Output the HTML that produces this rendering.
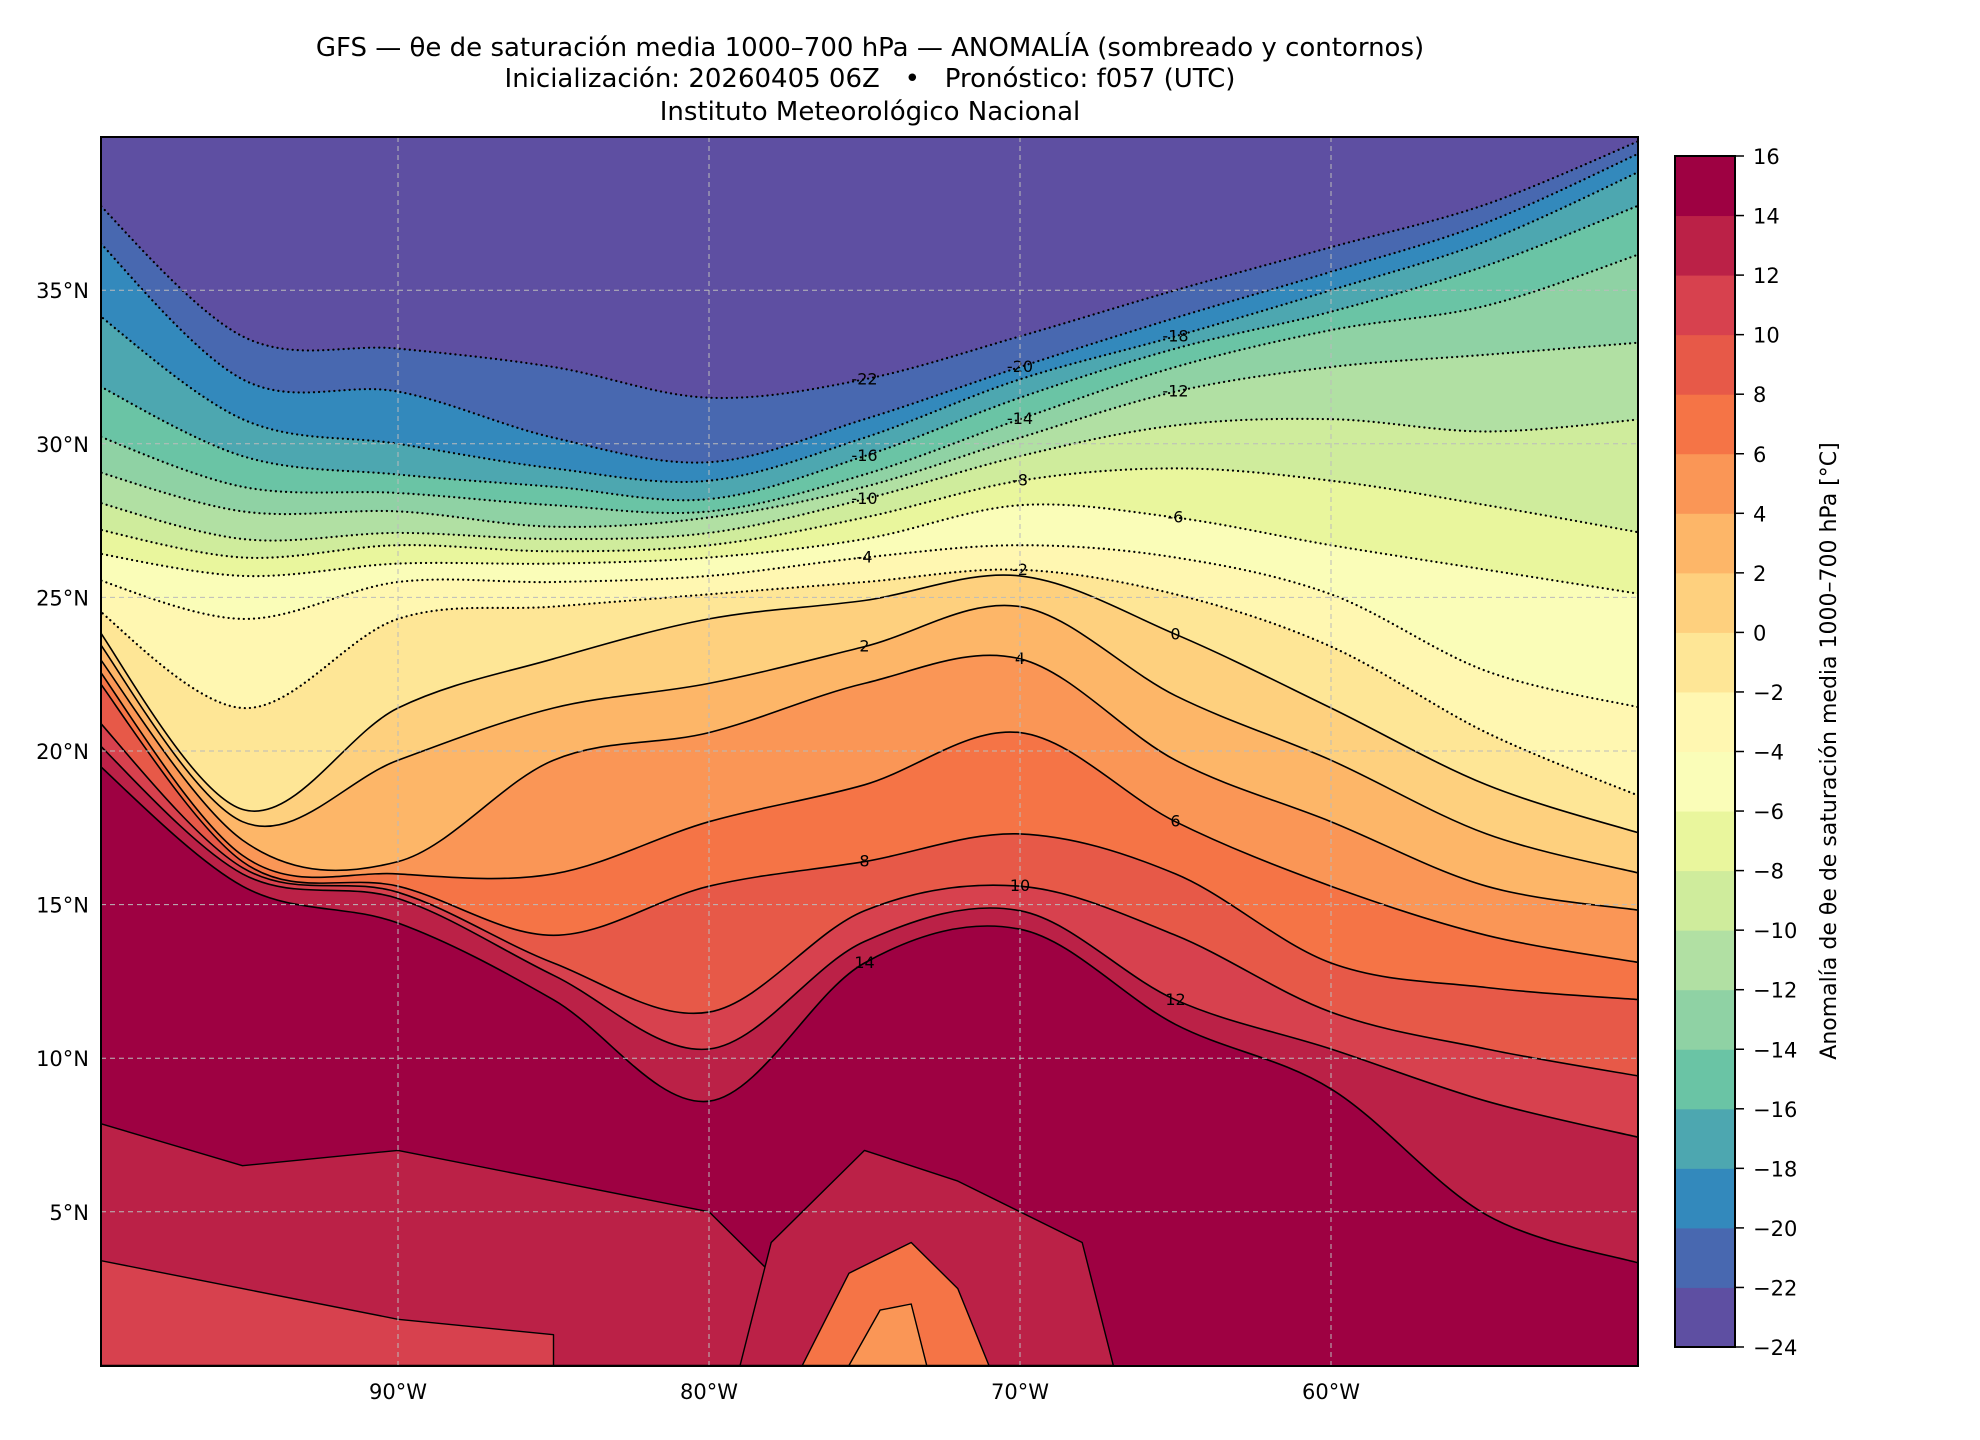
<!DOCTYPE html>
<html><head><meta charset="utf-8"><style>
html,body{margin:0;padding:0;background:#fff;}
svg{display:block;font-family:"DejaVu Sans","Liberation Sans",sans-serif;}
</style></head><body>
<svg id="fig" width="1980" height="1440" viewBox="0 0 1980 1440">
<g font-size="26" text-anchor="middle" fill="#000">
<text x="870" y="56">GFS — θe de saturación media 1000–700 hPa — ANOMALÍA (sombreado y contornos)</text>
<text x="870" y="87" xml:space="preserve">Inicialización: 20260405 06Z   •   Pronóstico: f057 (UTC)</text>
<text x="870" y="120">Instituto Meteorológico Nacional</text>
</g>
<defs><clipPath id="mapclip"><rect x="101" y="137" width="1537" height="1229"/></clipPath></defs>
<g id="map" clip-path="url(#mapclip)"></g>
<g id="grid"></g>
<rect x="101" y="137" width="1537" height="1229" fill="none" stroke="#000" stroke-width="2"/>
<g id="axes"></g>
<g id="cbar"></g>
<text x="1836" y="751" font-size="22" text-anchor="middle" transform="rotate(-90 1836 751)">Anomalía de θe de saturación media 1000–700 hPa [°C]</text>
</svg>
<script>
const NS="http://www.w3.org/2000/svg";
// contour levels & band colours
const levels=[-24,-22,-20,-18,-16,-14,-12,-10,-8,-6,-4,-2,0,2,4,6,8,10,12,14,16];
const bandColors=["#5e4fa2","#4868b0","#3389bc","#4da7b0","#6ac4a5","#8fd2a4","#b1e0a3","#cfec9c","#e9f69d","#fafdb8","#fff7b1","#fee696","#fed07e","#fdb668","#fa9656","#f57446","#e75948","#d7414e","#bb2147","#9e0142"];
// longitudes of sampled contour positions
const lons=[-100,-95,-90,-85,-80,-75,-70,-65,-60,-55,-50];
// latitude of each contour level at each sampled longitude
const c_m22=[38.2,33.5,33.1,32.5,31.5,32.1,33.5,35.0,36.4,37.8,39.9];
const c_m20=[37.0,32.1,31.7,30.2,29.4,30.8,32.5,34.1,35.6,37.2,39.5];
const c_m18=[34.5,30.8,30.0,29.2,28.8,30.2,32.1,33.5,35.0,36.6,38.9];
const c_m16=[32.1,29.6,29.0,28.6,28.2,29.6,31.5,33.1,34.3,35.8,37.8];
const c_m14=[30.4,28.6,28.4,28.0,27.8,29.0,30.8,32.5,33.7,34.5,36.2];
const c_m12=[29.2,27.8,27.8,27.3,27.6,28.6,30.2,31.7,32.5,32.9,33.3];
const c_m10=[28.2,26.9,27.1,26.9,27.1,28.2,29.6,30.6,30.8,30.4,30.8];
const c_m8=[27.3,26.3,26.7,26.5,26.7,27.6,28.8,29.2,28.8,28.0,27.1];
const c_m6=[26.5,25.7,26.1,26.1,26.3,26.9,28.0,27.6,26.7,25.9,25.1];
const c_m4=[25.7,24.3,25.5,25.5,25.7,26.3,26.7,26.3,25.1,22.6,21.4];
const c_m2=[24.9,21.4,24.3,24.7,25.1,25.5,25.9,25.1,23.4,20.6,18.5];
const c_0=[24.5,18.1,21.4,23.0,24.3,24.9,25.7,23.8,21.4,18.9,17.3];
const c_2=[24.1,17.7,19.7,21.4,22.2,23.4,24.7,21.8,19.7,17.3,16.0];
const c_4=[23.6,17.1,16.4,19.7,20.6,22.2,23.0,19.7,17.7,15.6,14.8];
const c_6=[23.2,16.6,16.0,16.0,17.7,18.9,20.6,17.7,15.6,14.0,13.1];
const c_8=[22.8,16.4,15.6,14.0,15.6,16.4,17.3,16.0,13.1,12.3,11.9];
const c_10=[21.4,16.2,15.4,13.1,11.5,14.8,15.6,14.0,11.5,10.3,9.4];
const c_12=[20.6,16.0,15.2,12.7,10.3,13.8,14.8,11.9,10.3,8.6,7.4];
const c_14=[19.9,15.6,14.4,11.9,8.6,13.1,14.2,11.1,9.0,4.9,3.3];
const contourLevels=[-22,-20,-18,-16,-14,-12,-10,-8,-6,-4,-2,0,2,4,6,8,10,12,14];
const contours=[c_m22,c_m20,c_m18,c_m16,c_m14,c_m12,c_m10,c_m8,c_m6,c_m4,c_m2,c_0,c_2,c_4,c_6,c_8,c_10,c_12,c_14];
// closed patches in the southern part: band lower level + outline (lon,lat)
const patchLevels=[12,10,12,6,4];
const patchLons=[
 [-100,-95,-90,-85,-80,-78,-78,-100],
 [-100,-95,-90,-85,-85,-100],
 [-79,-78,-75,-72,-68,-67],
 [-77,-75.5,-73.5,-72,-71],
 [-75.5,-74.5,-73.5,-73]
];
const patchLats=[
 [8,6.5,7,6,5,3,0,0],
 [3.5,2.5,1.5,1,0,0],
 [0,4,7,6,4,0],
 [0,3,4,2.5,0],
 [0,1.8,2,0]
];
const lonTicks=[-90,-80,-70,-60];
const lonTickLabels=["90°W","80°W","70°W","60°W"];
const latTicks=[35,30,25,20,15,10,5];
const latTickLabels=["35°N","30°N","25°N","20°N","15°N","10°N","5°N"];

const L=101,T=137,R=1638,B=1366;
function xLon(lon){return 101+(lon+99.55)*31.1;}
function yLat(lat){return 136.6+(40-lat)*30.72;}
function mk(tag,attrs,parent){const e=document.createElementNS(NS,tag);for(const k in attrs)e.setAttribute(k,attrs[k]);parent.appendChild(e);return e;}
function smoothPath(pts){
  let d="M"+pts[0][0].toFixed(1)+","+pts[0][1].toFixed(1);
  for(let i=0;i<pts.length-1;i++){
    const p0=pts[Math.max(0,i-1)],p1=pts[i],p2=pts[i+1],p3=pts[Math.min(pts.length-1,i+2)];
    const c1x=p1[0]+(p2[0]-p0[0])/6,c1y=p1[1]+(p2[1]-p0[1])/6;
    const c2x=p2[0]-(p3[0]-p1[0])/6,c2y=p2[1]-(p3[1]-p1[1])/6;
    d+=" C"+c1x.toFixed(1)+","+c1y.toFixed(1)+" "+c2x.toFixed(1)+","+c2y.toFixed(1)+" "+p2[0].toFixed(1)+","+p2[1].toFixed(1);
  }
  return d;
}
const map=document.getElementById('map');
const bg=mk('rect',{x:L,y:T,width:R-L,height:B-T,fill:bandColors[19]},map);


for(let k=contours.length-1;k>=0;k--){
  const lv=contourLevels[k];
  const bi=levels.indexOf(lv)-1;
  const pts=lons.map((lo,i)=>[xLon(lo),yLat(contours[k][i])]);
  const d=smoothPath(pts)+" L"+(xLon(-50)+40)+","+pts[pts.length-1][1].toFixed(1)+" L"+(xLon(-50)+40)+","+(T-10)+" L"+(L-40)+","+(T-10)+" L"+(L-40)+","+pts[0][1].toFixed(1)+" Z";
  const p=mk('path',{d:d,fill:bandColors[bi]},map);
  
  
}
// southern patches
for(let k=0;k<patchLevels.length;k++){
  const bi=levels.indexOf(patchLevels[k]);
  const pts=patchLons[k].map((lo,i)=>xLon(lo).toFixed(1)+","+yLat(patchLats[k][i]).toFixed(1));
  const p=mk('polygon',{points:pts.join(" "),fill:bandColors[bi],stroke:"#000","stroke-width":1.4,"stroke-linejoin":"round"},map);
  
  
}
for(let k=0;k<contours.length;k++){
  const lv=contourLevels[k];
  const pts=lons.map((lo,i)=>[xLon(lo),yLat(contours[k][i])]);
  const attrs={d:smoothPath(pts),fill:"none",stroke:"#000","stroke-width":lv<0?2.2:1.6};
  if(lv<0){attrs["stroke-dasharray"]="0.1 5";attrs["stroke-linecap"]="round";}
  const p=mk('path',attrs,map);
  
  
  const li=(k%3)+5;
  const t=mk('text',{x:xLon(lons[li]),y:yLat(contours[k][li])+5,"font-size":16,"text-anchor":"middle",fill:"#000"},map);
  t.textContent=String(lv);
  
  
}
const grid=document.getElementById('grid'),axes=document.getElementById('axes');
lonTicks.forEach((lo,i)=>{
  const x=xLon(lo);
  const g=mk('line',{x1:x,x2:x,y1:T,y2:B,stroke:"#bbb","stroke-width":1,"stroke-dasharray":"5 4"},grid);
  
  
  const t=mk('text',{x:x,y:1399,"font-size":21,"text-anchor":"middle"},axes);
  t.textContent=lonTickLabels[i];
  
  
});
latTicks.forEach((la,i)=>{
  const y=yLat(la);
  const g=mk('line',{x1:L,x2:R,y1:y,y2:y,stroke:"#bbb","stroke-width":1,"stroke-dasharray":"5 4"},grid);
  
  
  const t=mk('text',{x:89,y:y+8,"font-size":21,"text-anchor":"end"},axes);
  t.textContent=latTickLabels[i];
  
  
});
const cb=document.getElementById('cbar');
const cL=1675,cR=1735,cT=156,cB=1347;
function yCb(v){return cB-(v-levels[0])/(levels[levels.length-1]-levels[0])*(cB-cT);}
for(let i=0;i<bandColors.length;i++){
  const y1=yCb(levels[i+1]),y2=yCb(levels[i]);
  const r=mk('rect',{x:cL,y:y1,width:cR-cL,height:y2-y1+0.5,fill:bandColors[i]},cb);
  
  
}
const fr=mk('rect',{x:cL,y:cT,width:cR-cL,height:cB-cT,fill:"none",stroke:"#000","stroke-width":2},cb);


levels.forEach(v=>{
  const y=yCb(v);
  const tk=mk('line',{x1:cR,x2:cR+9,y1:y,y2:y,stroke:"#000","stroke-width":1.5},cb);
  
  
  const t=mk('text',{x:1753,y:y+8,"font-size":21},cb);
  t.textContent=v<0?"−"+Math.abs(v):String(v);
  
  
});
</script>
</body></html>
